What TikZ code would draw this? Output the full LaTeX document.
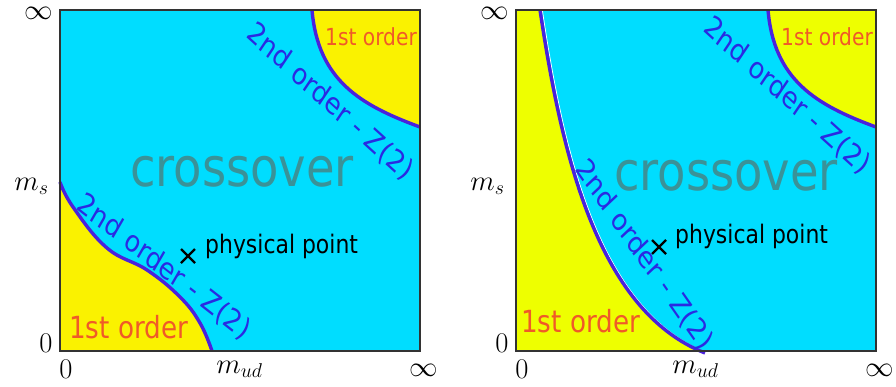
\RequirePackage{fix-cm}
\documentclass[tikz,border=0pt]{standalone}
\usepackage{fontspec}
\setsansfont{DejaVu Sans}
\usepackage{tikz}
\definecolor{flow}{HTML}{00DDFF}
\definecolor{firstL}{HTML}{FAF200}
\definecolor{firstR}{HTML}{EEFF00}
\definecolor{zedline}{HTML}{4A22DC}
\definecolor{zedtext}{HTML}{2A2AE2}
\definecolor{rust}{HTML}{F05A28}
\definecolor{murk}{HTML}{3A9298}

\begin{document}
\begin{tikzpicture}[x=1pt,y=-1pt,
   frame/.style={draw=black!80,line width=1.4pt},
   zcurve/.style={draw=zedline,line width=3.4pt},
   zlabel/.style={inner sep=0pt,text=zedtext,xscale=.86,font=\sffamily\fontsize{29.5}{30}\selectfont},
   tag/.style={inner sep=0pt,xscale=.86,anchor=base west,font=\sffamily\fontsize{#1}{#1}\selectfont},
   ax/.style={inner sep=0pt,font=\fontsize{28.5}{30}\selectfont}]
  \useasboundingbox (0,0) rectangle (896,386);
  % left chart
  \fill[flow] (60,10) rectangle (420,351);
  \fill[firstL] plot[smooth,tension=.7] coordinates {(60,182) (73,207) (107,248) (147,270) (180,297) (200,323) (212,351)} -- (60,351) -- cycle;
  \fill[firstL] (312,10) .. controls (318,80) and (360,105) .. (420,127) -- (420,10) -- cycle;
  \draw[zcurve] plot[smooth,tension=.7] coordinates {(60,182) (73,207) (107,248) (147,270) (180,297) (200,323) (212,351)};
  \draw[zcurve] (312,10) .. controls (318,80) and (360,105) .. (420,127);
  \node[tag=54,text=murk,anchor=base] (crossL) at (242,186) {crossover};
  \node[tag=30.5,text=rust] (firstLa) at (69,338) {1st order};
  \node[tag=23.5,text=rust] (firstLb) at (325,45) {1st order};
  \node[zlabel,rotate=-34] (zedLa) at (164,267) {2nd order - Z(2)};
  \node[zlabel,rotate=-38] (zedLb) at (330,102) {2nd order - Z(2)};
  \coordinate (ptL) at (188,256);
  \draw[line width=2.4pt] (ptL) +(-7,-7) -- +(7,7) (ptL) +(-7,7) -- +(7,-7);
  \node[tag=25.5] (physL) at (205,253) {physical point};
  % right chart
  \begin{scope}[xshift=456pt]
    \fill[flow] (60,10) rectangle (420,351);
    \begin{scope}
      \clip (60,10) rectangle (420,351);
      \fill[firstR] (60,10) -- (84,10) .. controls (105,150) and (140,310) .. (249,353) -- (60,353) -- cycle;
    \end{scope}
    \fill[firstR] (312,10) .. controls (318,80) and (360,105) .. (420,127) -- (420,10) -- cycle;
    \draw[white,line width=.8pt,xshift=2.3pt] (84,10) .. controls (105,150) and (140,310) .. (249,353);
    \draw[zcurve] (84,10) .. controls (105,150) and (140,310) .. (249,353);
    \draw[zcurve] (312,10) .. controls (318,80) and (360,105) .. (420,127);
    \node[tag=54,text=murk,anchor=base] (crossR) at (270,190) {crossover};
    \node[tag=30.5,text=rust] (firstRa) at (65,332) {1st order};
    \node[tag=23.5,text=rust] (firstRb) at (325,45) {1st order};
    \node[zlabel,rotate=-51] (zedRa) at (188,255) {2nd order - Z(2)};
    \node[zlabel,rotate=-38] (zedRb) at (331,96) {2nd order - Z(2)};
    \coordinate (ptR) at (203,247);
    \draw[line width=2.4pt] (ptR) +(-7,-7) -- +(7,7) (ptR) +(-7,7) -- +(7,-7);
    \node[tag=25.5] (physR) at (219,243) {physical point};
  \end{scope}
  % frames and axes
  \foreach \p/\dx in {L/0,R/456}{
    \begin{scope}[xshift=\dx pt]
      \draw[frame] (60,10) rectangle (420,351);
      \node[ax] (infT\p) at (39,13.5) {$\infty$};
      \node[ax,anchor=base] (ms\p) at (31.5,190) {$m_s$};
      \node[ax,anchor=base] (zeroV\p) at (46,352) {$0$};
      \node[ax,anchor=base] (zeroH\p) at (66,378) {$0$};
      \node[ax,anchor=base] (mud\p) at (239.5,373) {$m_{ud}$};
      \node[ax] (infB\p) at (424,370) {$\infty$};
    \end{scope}}
\end{tikzpicture}
\end{document}
